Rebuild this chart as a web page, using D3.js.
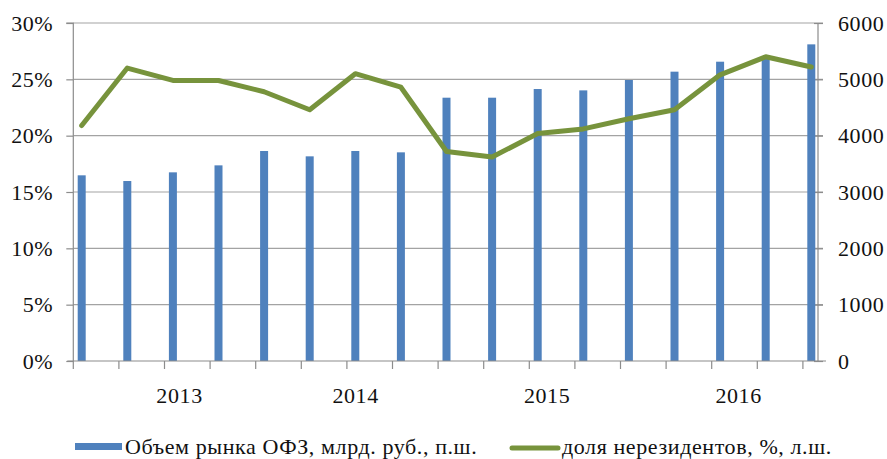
<!DOCTYPE html>
<html>
<head>
<meta charset="utf-8">
<script src="https://cdn.jsdelivr.net/npm/d3@7"></script>
<style>
  html, body { margin: 0; padding: 0; background: #fff; }
  svg { display: block; }
  text { font-family: "Liberation Serif", "Times New Roman", serif; fill: #111; letter-spacing: 0.6px; }
</style>
</head>
<body>
<svg id="chart" width="887" height="459"></svg>
<script>
// ---- data ----
const categories = d3.range(17).map(i => "P" + (i + 1));
const volumeOFZ = [3296, 3195, 3349, 3473, 3728, 3633, 3728, 3704, 4674, 4674, 4828, 4804, 4988, 5136, 5313, 5378, 5621];
const nonResidentShare = [20.9, 26.0, 24.9, 24.9, 23.9, 22.3, 25.5, 24.3, 18.6, 18.1, 20.2, 20.6, 21.5, 22.3, 25.4, 27.0, 26.1];
const leftTicks = [0, 5, 10, 15, 20, 25, 30];
const rightTicks = [0, 1000, 2000, 3000, 4000, 5000, 6000];
const yearLabels = ["2013", "2014", "2015", "2016"];
const yearLabelIndex = [1.94, 5.8, 10.0, 14.2];
const legendLabels = ["Объем рынка ОФЗ, млрд. руб., п.ш.", "доля нерезидентов, %, л.ш."];

// ---- layout ----
const pLeft = 73.3, pRight = 818, pTop = 23, pBottom = 361;
const step = 45.6;
const fontSize = "22px";
const barColor = "#4F81BD", lineColor = "#77933C", gridColor = "#A3A3A3", axisColor = "#8C8C8C";

const svg = d3.select("#chart");

const x = d3.scaleBand().domain(categories).range([pLeft, pLeft + step * categories.length]).paddingInner(0).paddingOuter(0);
const yL = d3.scaleLinear().domain([0, 30]).range([pBottom, pTop]);
const yR = d3.scaleLinear().domain([0, 6000]).range([pBottom, pTop]);

const barOffset = 4.4, barWidth = 8;
const pointX = c => x(c) + barOffset + barWidth / 2;

// gridlines
svg.append("g").selectAll("line").data(leftTicks.filter(t => t > 0)).join("line")
  .attr("x1", pLeft).attr("x2", pRight + 5)
  .attr("y1", d => yL(d)).attr("y2", d => yL(d))
  .attr("stroke", gridColor).attr("stroke-width", 1.2);

// left axis
const gL = svg.append("g").attr("transform", `translate(${pLeft},0)`)
  .call(d3.axisLeft(yL).tickValues(leftTicks).tickFormat(d => d + "%").tickSize(7).tickPadding(13));
gL.select(".domain").attr("stroke", axisColor).attr("stroke-width", 1.2).attr("d", `M-7,${pTop}H0V${pBottom}`);
gL.selectAll(".tick line").attr("stroke", axisColor).attr("stroke-width", 1.2);
gL.selectAll("text").style("font-size", fontSize).style("font-family", "Liberation Serif").attr("fill", "#111");

// right axis
const gR = svg.append("g").attr("transform", `translate(${pRight},0)`)
  .call(d3.axisRight(yR).tickValues(rightTicks).tickFormat(d3.format("d")).tickSize(5).tickPadding(15));
gR.select(".domain").attr("stroke", axisColor).attr("stroke-width", 1.2).attr("d", `M0,${pTop}V${pBottom}`);
gR.selectAll(".tick line").attr("stroke", axisColor).attr("stroke-width", 1.2).attr("x1", -4);
gR.selectAll("text").style("font-size", fontSize).style("font-family", "Liberation Serif").attr("fill", "#111");

// bars
svg.append("g").selectAll("rect").data(categories).join("rect")
  .attr("x", c => x(c) + barOffset)
  .attr("width", barWidth)
  .attr("y", (c, i) => yR(volumeOFZ[i]))
  .attr("height", (c, i) => pBottom - yR(volumeOFZ[i]))
  .attr("fill", barColor);

// bottom axis
const gB = svg.append("g").attr("transform", `translate(0,${pBottom})`);
gB.append("line").attr("x1", pLeft - 6).attr("x2", pRight + 8).attr("y1", 0).attr("y2", 0)
  .attr("stroke", axisColor).attr("stroke-width", 1.2);
gB.selectAll("line.tk").data(categories).join("line").attr("class", "tk")
  .attr("x1", c => x(c)).attr("x2", c => x(c)).attr("y1", 0).attr("y2", 8)
  .attr("stroke", axisColor).attr("stroke-width", 1.2);
gB.selectAll("text").data(yearLabels).join("text")
  .attr("x", (d, i) => pLeft + (yearLabelIndex[i] + 0.5) * step - 5)
  .attr("y", 42)
  .attr("text-anchor", "middle")
  .style("font-size", fontSize)
  .text(d => d);

// line
const line = d3.line().x((d, i) => pointX(categories[i])).y(d => yL(d));
svg.append("path").datum(nonResidentShare)
  .attr("d", line).attr("fill", "none")
  .attr("stroke", lineColor).attr("stroke-width", 5).attr("stroke-linejoin", "round").attr("stroke-linecap", "round");

// legend
const lg = svg.append("g");
lg.append("rect").attr("x", 75).attr("y", 443).attr("width", 47).attr("height", 7).attr("fill", barColor);
lg.append("text").attr("x", 125).attr("y", 453.5).style("font-size", fontSize).text(legendLabels[0]);
lg.append("line").attr("x1", 512).attr("x2", 558).attr("y1", 448).attr("y2", 448)
  .attr("stroke", lineColor).attr("stroke-width", 5).attr("stroke-linecap", "round");
lg.append("text").attr("x", 562).attr("y", 453.5).style("font-size", fontSize).text(legendLabels[1]);
</script>
</body>
</html>
